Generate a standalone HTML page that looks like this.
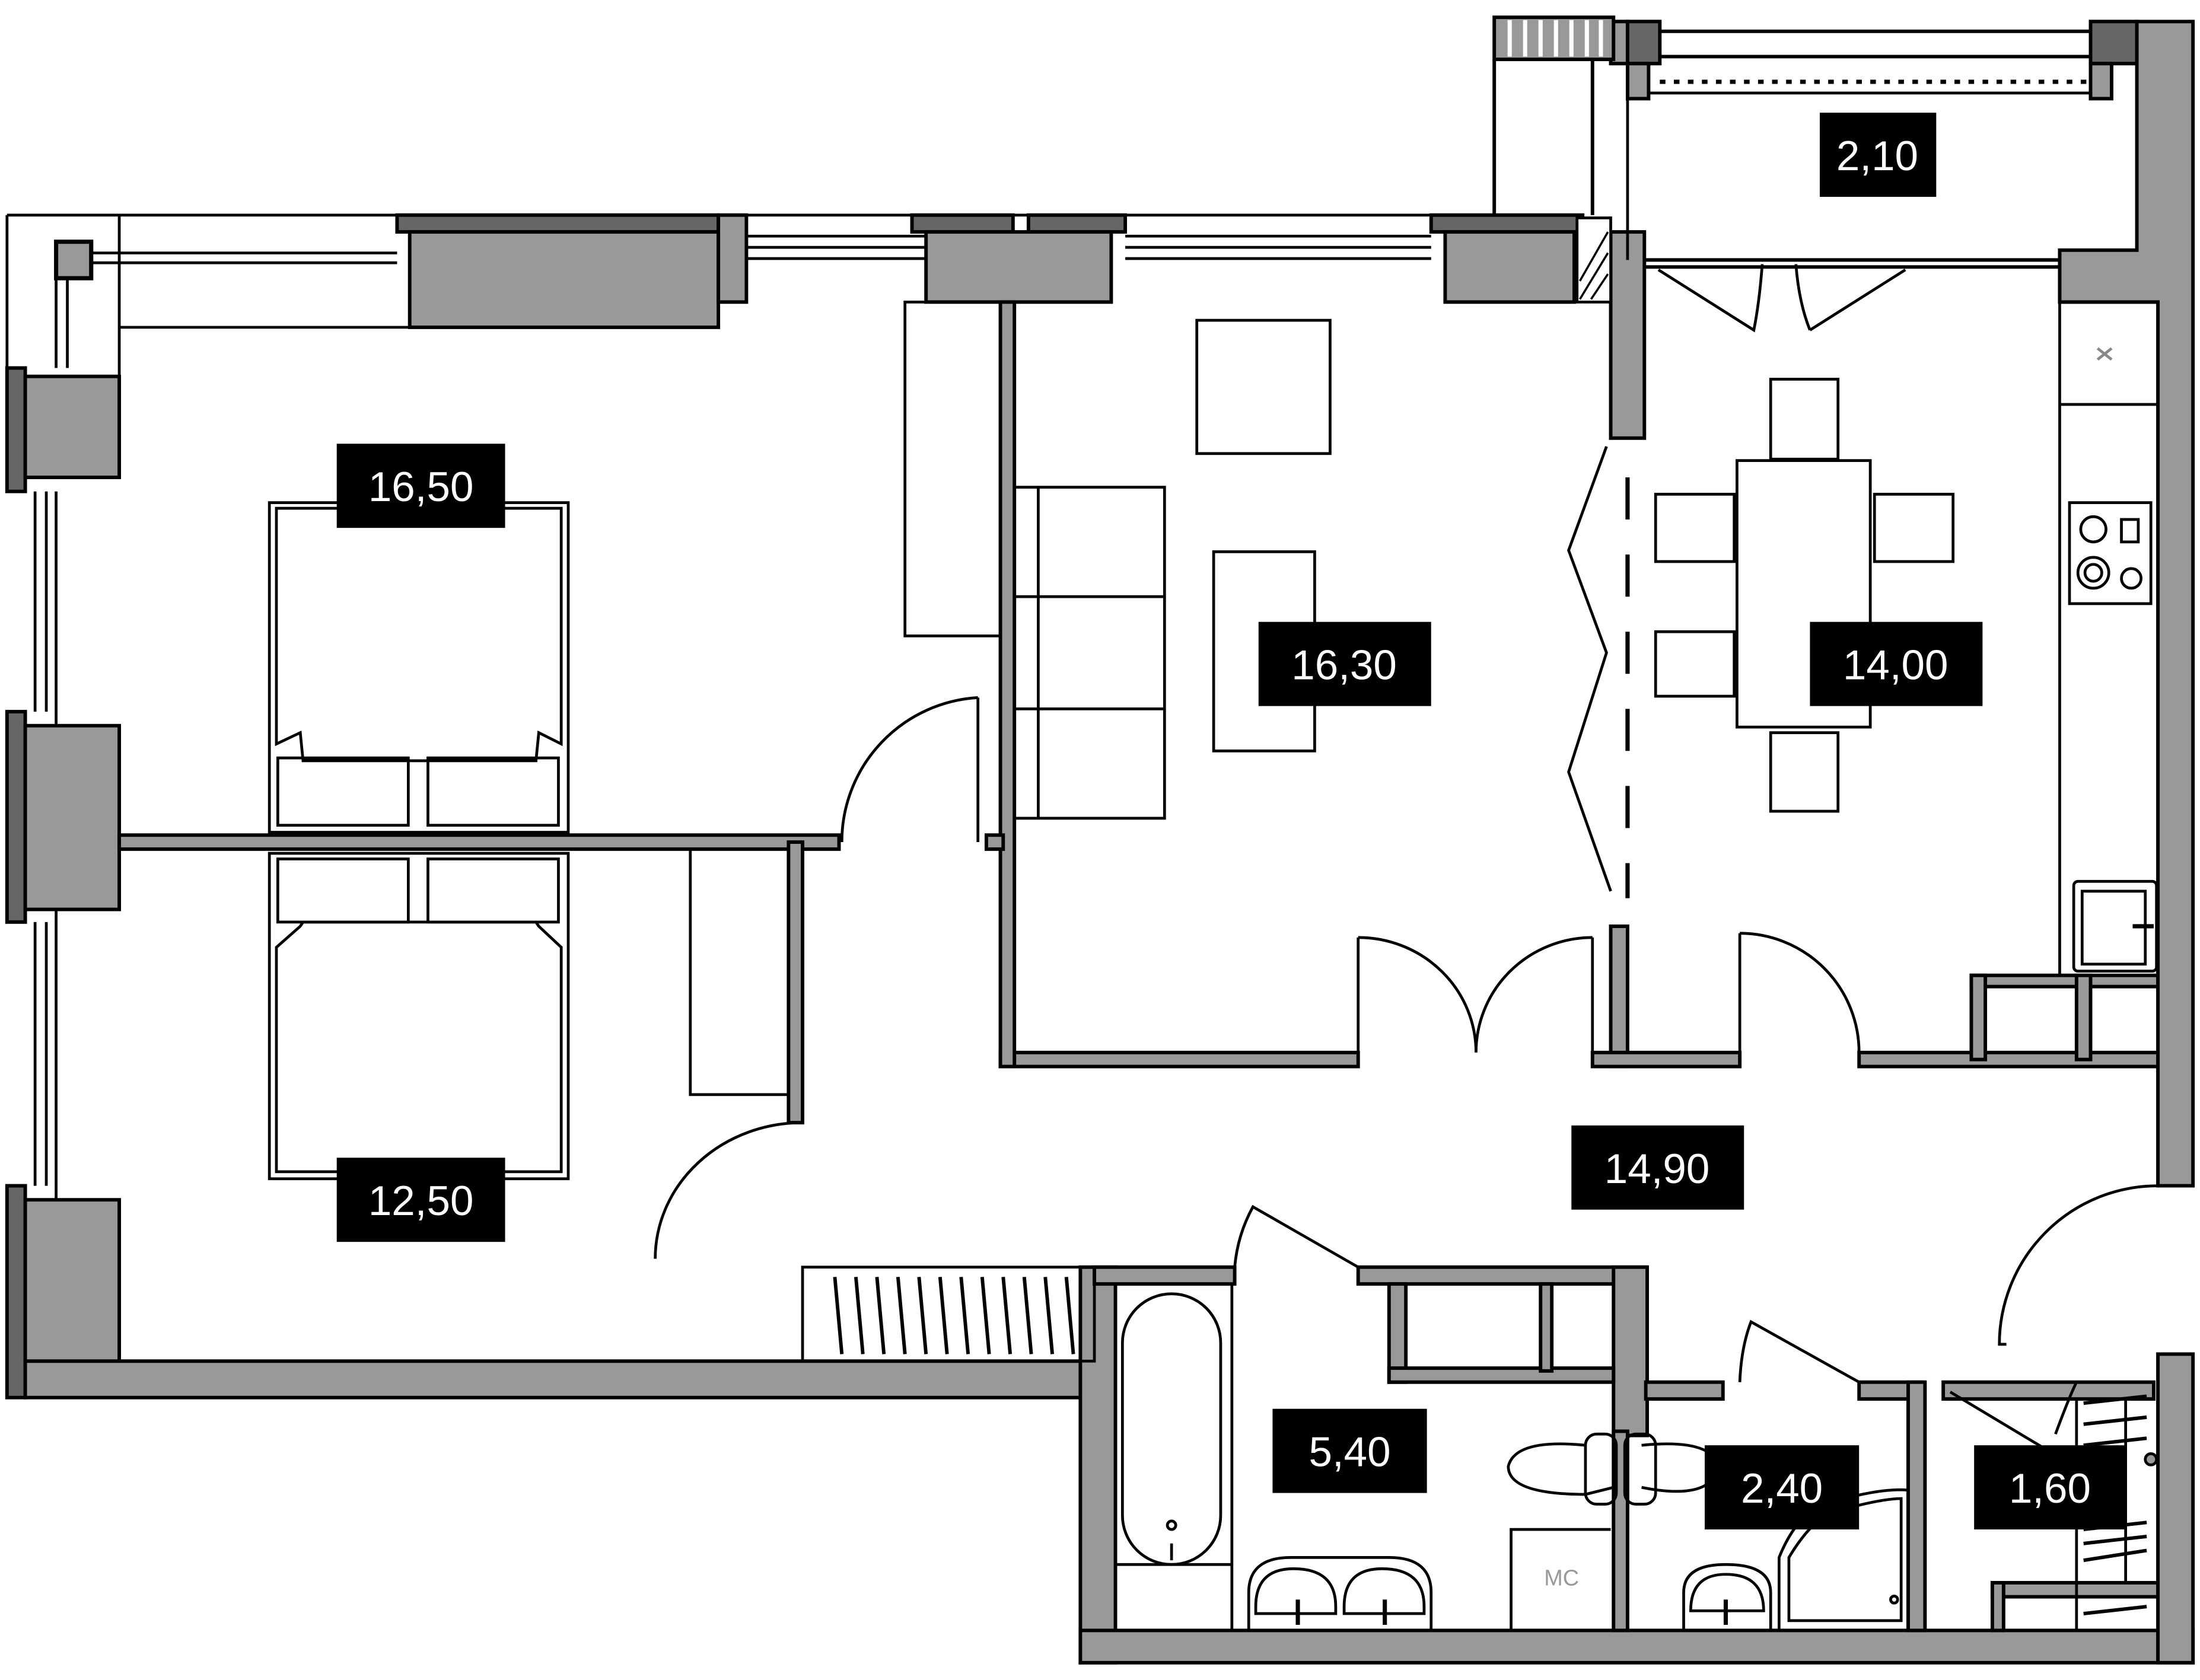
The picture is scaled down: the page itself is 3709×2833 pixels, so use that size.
<!DOCTYPE html>
<html><head><meta charset="utf-8"><style>
html,body{margin:0;padding:0;background:#fff}
svg{display:block}
text{font-family:"Liberation Sans",sans-serif}
</style></head><body>
<svg width="3709" height="2833" viewBox="0 0 1568 1197" xmlns="http://www.w3.org/2000/svg">
<g fill="none" stroke="#000" stroke-width="2">
<path d="M5,153 H1128 M5,153 V262 M85,153 V268 M40,198 V262 M48,198 V262"/>
<rect x="40" y="172" width="25" height="26" fill="#999" stroke-width="3"/>
<path d="M65,180 H283 M65,187 H283 M532,168 H660 M532,176 H660 M532,184 H660 M802,168 H1020 M802,176 H1020 M802,184 H1020 M85,233 H292"/>
</g>
<g fill="#999" stroke="#000" stroke-width="2.5">
<rect x="283" y="153" width="229" height="12" fill="#666"/>
<rect x="292" y="165" width="220" height="68"/>
<rect x="512" y="153" width="20" height="62"/>
<rect x="650" y="153" width="72" height="12" fill="#666"/>
<rect x="733" y="153" width="69" height="12" fill="#666"/>
<rect x="660" y="165" width="132" height="50"/>
<rect x="1020" y="153" width="108" height="12" fill="#666"/>
<rect x="1030" y="165" width="92" height="50"/>
<rect x="1148" y="165" width="24" height="147"/>
<rect x="5" y="262" width="13" height="88" fill="#666"/>
<rect x="18" y="268" width="67" height="72"/>
<rect x="5" y="507" width="13" height="150" fill="#666"/>
<rect x="18" y="517" width="67" height="131"/>
<rect x="5" y="845" width="13" height="151" fill="#666"/>
<rect x="18" y="855" width="67" height="117"/>
<rect x="18" y="970" width="762" height="26"/>
<rect x="770" y="903" width="25" height="282"/>
<rect x="770" y="1162" width="793" height="23"/>
<rect x="1538" y="965" width="25" height="220"/>
<rect x="780" y="903" width="100" height="12"/>
<rect x="968" y="903" width="205" height="12"/>
<rect x="1150" y="903" width="24" height="120"/>
<rect x="1150" y="1020" width="10" height="142"/>
<rect x="990" y="915" width="12" height="70"/>
<rect x="990" y="975" width="160" height="10"/>
<rect x="1098" y="915" width="8" height="62"/>
<rect x="1173" y="985" width="55" height="12"/>
<rect x="1325" y="985" width="45" height="12"/>
<rect x="1360" y="985" width="12" height="177"/>
<rect x="1385" y="985" width="150" height="12"/>
<rect x="1420" y="1128" width="118" height="10"/>
<rect x="1420" y="1128" width="8" height="34"/>
<path d="M1523,15 L1563,15 L1563,845 L1538,845 L1538,215 L1468,215 L1468,178 L1523,178 Z"/>
<rect x="1148" y="15" width="12" height="30"/>
<rect x="1160" y="15" width="23" height="30" fill="#666"/>
<rect x="1490" y="15" width="33" height="30" fill="#666"/>
<rect x="1160" y="45" width="15" height="25"/>
<rect x="1490" y="45" width="15" height="25"/>
<rect x="1325" y="750" width="213" height="10"/>
<rect x="1405" y="695" width="133" height="8"/>
<rect x="1405" y="695" width="10" height="60"/>
<rect x="1480" y="695" width="10" height="60"/>
<rect x="1148" y="660" width="12" height="100"/>
<rect x="1135" y="750" width="105" height="10"/>
<rect x="713" y="750" width="255" height="10"/>
<rect x="713" y="215" width="10" height="545"/>
<rect x="703" y="595" width="12" height="10"/>
<rect x="85" y="595" width="513" height="10"/>
<rect x="562" y="600" width="10" height="200"/>
<rect x="1065" y="12" width="85" height="30"/>
</g>
<g stroke="#fff" stroke-width="3">
<path d="M1076,14 V40 M1087,14 V40 M1098,14 V40 M1109,14 V40 M1120,14 V40 M1131,14 V40 M1141,14 V40"/>
</g>
<rect x="1124" y="155" width="24" height="60" fill="#fff" stroke="#000" stroke-width="2"/>
<path d="M1126,200 L1146,165 M1126,213 L1146,180 M1134,213 L1146,195" stroke="#000" stroke-width="1.5"/>
<g fill="none" stroke="#000" stroke-width="2">
<path d="M25,350 V507 M33,350 V507 M40,350 V517 M25,657 V845 M33,657 V845 M40,648 V855"/>
<path d="M1160,45 V185 M1523,45 V178"/>
<path d="M1183,22 H1490 M1183,40 H1490 M1065,42 V153 M1135,42 V153 M1172,190 H1468 M1172,185 H1468" stroke-width="2.5"/>
<path d="M1183,58 H1490" stroke-width="3" stroke-dasharray="4,6"/>
<path d="M1175,66 H1490"/>
<path d="M1182,192 L1250,235 Q1254,215 1256,188 M1290,235 L1358,192 M1290,235 Q1282,215 1280,188"/>
<rect x="645" y="215" width="68" height="238"/>
<rect x="492" y="605" width="70" height="175"/>
<rect x="572" y="903" width="208" height="67"/>
<path d="M595,910 L600,965 M610,910 L615,965 M625,910 L630,965 M640,910 L645,965 M655,910 L660,965 M670,910 L675,965 M685,910 L690,965 M700,910 L705,965 M715,910 L720,965 M730,910 L735,965 M745,910 L750,965 M760,910 L765,965" stroke-width="2.5"/>
<rect x="192" y="358" width="213" height="235"/>
<path d="M197,362 H400 V530 L384,522 L382,542 H216 L214,522 L197,530 Z"/>
<rect x="198" y="540" width="93" height="48"/><rect x="305" y="540" width="93" height="48"/>
<rect x="192" y="608" width="213" height="232"/>
<path d="M197,835 H400 V675 L384,660 L382,657 H216 L214,660 L197,675 Z"/>
<rect x="198" y="612" width="93" height="45"/><rect x="305" y="612" width="93" height="45"/>
<rect x="853" y="228" width="95" height="95"/>
<rect x="865" y="393" width="72" height="142"/>
<rect x="723" y="347" width="107" height="236"/>
<path d="M740,347 V583 M723,425 H830 M723,505 H830"/>
<path d="M1145,318 L1118,392 L1145,465 L1118,550 L1148,635"/>
<path d="M1160,340 V640" stroke-dasharray="30,25" stroke-width="3"/>
<rect x="1238" y="328" width="95" height="190"/>
<rect x="1262" y="270" width="48" height="57"/><rect x="1262" y="522" width="48" height="56"/>
<rect x="1180" y="352" width="56" height="48"/><rect x="1180" y="450" width="56" height="46"/>
<rect x="1336" y="352" width="56" height="48"/>
<path d="M1468,215 V695 H1538 M1468,288 H1538"/>
<rect x="1475" y="358" width="58" height="72"/>
<circle cx="1492" cy="377" r="9"/><circle cx="1492" cy="408" r="11"/><circle cx="1492" cy="408" r="6"/><circle cx="1519" cy="412" r="7"/><rect x="1512" y="370" width="12" height="16"/>
<rect x="1478" y="628" width="59" height="64" rx="3"/><rect x="1484" y="635" width="45" height="52"/>
<path d="M1520,660 H1535" stroke-width="3"/>
<path d="M1495,248 L1505,256 M1505,248 L1495,256" stroke="#888"/>
<path d="M697,497 V600 M697,497 A103,103 0 0 0 600,600"/>
<path d="M572,800 A105,97 0 0 0 467,897"/>
<path d="M968,668 V750 M968,668 A84,82 0 0 1 1052,750 M1135,668 V750 M1135,668 A83,82 0 0 0 1052,750"/>
<path d="M1240,665 V750 M1240,665 A85,85 0 0 1 1325,750"/>
<path d="M1538,845 A113,113 0 0 0 1425,958 H1430"/>
<path d="M968,903 L893,860 Q882,880 880,903"/>
<path d="M1325,985 L1248,942 Q1241,960 1240,985"/>
<path d="M1390,992 L1470,1040"/>
<path d="M1465,1022 Q1475,995 1480,985"/>
<path d="M795,915 V1162 M878,915 V1162 M795,1115 H878"/>
<rect x="800" y="922" width="70" height="193" rx="35"/>
<circle cx="835" cy="1087" r="3"/><path d="M835,1100 V1112"/>
<path d="M890,1162 V1135 Q890,1110 920,1110 H990 Q1020,1110 1020,1135 V1162"/>
<path d="M895,1145 Q895,1118 922,1118 Q952,1118 952,1145 V1150 H895 Z M958,1145 Q958,1118 985,1118 Q1015,1118 1015,1145 V1150 H958 Z"/>
<path d="M925,1140 V1158 M987,1140 V1158" stroke-width="3"/>
<path d="M1077,1162 V1090 H1148"/>
<path d="M1130,1030 Q1080,1025 1075,1045 Q1075,1065 1130,1065 L1150,1060 M1170,1060 Q1220,1070 1225,1045 Q1220,1025 1170,1030"/>
<rect x="1130" y="1022" width="22" height="50" rx="8"/><rect x="1158" y="1022" width="22" height="50" rx="8"/>
<path d="M1200,1162 V1135 Q1200,1115 1230,1115 Q1262,1115 1262,1135 V1162"/>
<path d="M1205,1148 Q1205,1122 1230,1122 Q1257,1122 1257,1148 H1205 Z"/>
<path d="M1230,1140 V1158" stroke-width="3"/>
<path d="M1268,1162 V1110 Q1280,1080 1300,1072 Q1340,1060 1360,1062 V1162"/>
<path d="M1275,1155 V1110 Q1290,1085 1305,1078 Q1340,1068 1355,1068 V1155 Z"/>
<circle cx="1350" cy="1140" r="2.5"/>
<path d="M1480,997 V1162 M1515,997 V1128"/>
<path d="M1485,1000 L1530,995 M1485,1015 L1530,1010 M1485,1030 L1530,1025 M1485,1090 L1530,1085 M1485,1100 L1530,1095 M1485,1112 L1530,1105 M1485,1150 L1530,1145" stroke-width="2.5"/>
<circle cx="1533" cy="1040" r="4" fill="#999"/>
</g>
<text x="1113" y="1130" font-size="16" fill="#999" text-anchor="middle">MC</text>
<g fill="#000">
<rect x="240" y="316" width="120" height="60"/>
<rect x="240" y="825" width="120" height="60"/>
<rect x="897" y="443" width="123" height="60"/>
<rect x="1290" y="443" width="123" height="60"/>
<rect x="1297" y="80" width="83" height="60"/>
<rect x="1120" y="802" width="123" height="60"/>
<rect x="907" y="1004" width="110" height="60"/>
<rect x="1215" y="1030" width="110" height="60"/>
<rect x="1407" y="1030" width="108" height="60"/>
</g>
<g fill="#fff" font-size="30" text-anchor="middle">
<text x="300" y="357">16,50</text>
<text x="300" y="866">12,50</text>
<text x="958" y="484">16,30</text>
<text x="1351" y="484">14,00</text>
<text x="1338" y="121">2,10</text>
<text x="1181" y="843">14,90</text>
<text x="962" y="1045">5,40</text>
<text x="1270" y="1071">2,40</text>
<text x="1461" y="1071">1,60</text>
</g>
</svg>
</body></html>
